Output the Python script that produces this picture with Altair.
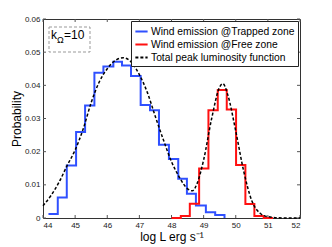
import altair as alt
import pandas as pd

# ---- data ----
trapped_edges = [44.17, 44.46, 44.74, 45.03, 45.31, 45.60, 45.88, 46.19, 46.46, 46.74,
                 47.04, 47.33, 47.61, 47.92, 48.21, 48.48, 48.76, 49.07, 49.36, 49.65]
trapped_vals = [0.0012, 0.0062, 0.0158, 0.0259, 0.0339, 0.0438, 0.0457, 0.0471, 0.0460,
                0.0428, 0.0341, 0.0325, 0.0221, 0.0178, 0.0118, 0.0073, 0.0038, 0.0017,
                0.0009, 0.0]

free_edges = [48.00, 48.29, 48.57, 48.86, 49.15, 49.44, 49.72, 50.01, 50.30, 50.58, 50.87, 51.16]
free_vals = [0.0, 0.0006, 0.0043, 0.0149, 0.0325, 0.0386, 0.0327, 0.0160, 0.0042, 0.0006, 0.0, 0.0]

total_x = [44.0, 44.25, 44.5, 44.75, 45.0, 45.25, 45.5, 45.75, 46.0, 46.25, 46.5, 46.75,
           47.0, 47.25, 47.5, 47.75, 48.0, 48.25, 48.5, 48.65, 48.8, 49.0, 49.25, 49.5,
           49.6, 49.75, 50.0, 50.25, 50.5, 50.75, 51.0, 51.5, 52.0]
total_y = [0.0037, 0.0068, 0.0108, 0.0158, 0.0205, 0.0268, 0.0348, 0.0410, 0.0450, 0.0475,
           0.0483, 0.0470, 0.0432, 0.0378, 0.0305, 0.0235, 0.0170, 0.0122, 0.0088, 0.0082,
           0.0105, 0.0175, 0.0300, 0.0395, 0.0405, 0.0372, 0.0262, 0.0140, 0.0052, 0.0015,
           0.0004, 0.0, 0.0]

series_names = ["Wind emission @Trapped zone", "Wind emission @Free zone",
                "Total peak luminosity function"]
series_colors = ["#2f50ff", "#ff1010", "#000000"]
series_dash = [[1, 0], [1, 0], [3, 2]]

x_ticks = [44, 45, 46, 47, 48, 49, 50, 51, 52]
y_ticks = [0, 0.01, 0.02, 0.03, 0.04, 0.05, 0.06]

x_title = "log L erg s\u207b\u00b9"
y_title = "Probability"

W, H = 257, 199
FONT = "Liberation Sans"

df_trap = pd.DataFrame({"x": trapped_edges, "y": trapped_vals, "series": series_names[0]})
df_free = pd.DataFrame({"x": free_edges, "y": free_vals, "series": series_names[1]})
df_tot = pd.DataFrame({"x": total_x, "y": total_y, "series": series_names[2]})

xs = alt.Scale(domain=[44, 52], nice=False, zero=False)
ys = alt.Scale(domain=[0, 0.06], nice=False)

xaxis = alt.Axis(title=x_title, values=x_ticks, format="d", labelOverlap=False)
yaxis = alt.Axis(title=y_title, values=y_ticks, labelOverlap=False,
                 labelExpr="datum.value == 0 ? '0' : format(datum.value, '.2f')")

xenc = alt.X("x:Q", scale=xs, axis=xaxis)
yenc = alt.Y("y:Q", scale=ys, axis=yaxis)
cenc = alt.Color("series:N", scale=alt.Scale(domain=series_names, range=series_colors),
                 legend=alt.Legend(title=None))
denc = alt.StrokeDash("series:N", scale=alt.Scale(domain=series_names, range=series_dash),
                      legend=alt.Legend(title=None))

trap = alt.Chart(df_trap).mark_line(interpolate="step-after", strokeWidth=2).encode(
    x=xenc, y=yenc, color=cenc, strokeDash=denc)
free = alt.Chart(df_free).mark_line(interpolate="step-after", strokeWidth=2).encode(
    x=xenc, y=yenc, color=cenc, strokeDash=denc)
tot = alt.Chart(df_tot).mark_line(interpolate="monotone", strokeWidth=1.5).encode(
    x=xenc, y=yenc, color=cenc, strokeDash=denc)

# inward ticks (MATLAB style) on all four sides
dfx = pd.DataFrame({"t": x_ticks})
dfy = pd.DataFrame({"t": y_ticks})
tick_color = "#555555"
xt_bot = alt.Chart(dfx).mark_rule(color=tick_color, strokeWidth=1).encode(
    x=alt.X("t:Q", scale=xs, axis=xaxis), y=alt.value(H), y2=alt.value(H - 3))
xt_top = alt.Chart(dfx).mark_rule(color=tick_color, strokeWidth=1).encode(
    x=alt.X("t:Q", scale=xs, axis=xaxis), y=alt.value(0), y2=alt.value(3))
yt_left = alt.Chart(dfy).mark_rule(color=tick_color, strokeWidth=1).encode(
    y=alt.Y("t:Q", scale=ys, axis=yaxis), x=alt.value(0), x2=alt.value(3))
yt_right = alt.Chart(dfy).mark_rule(color=tick_color, strokeWidth=1).encode(
    y=alt.Y("t:Q", scale=ys, axis=yaxis), x=alt.value(W), x2=alt.value(W - 3))

# k_Omega = 10 annotation box
box = alt.Chart(dfx.head(1)).mark_rect(fill="white", stroke="#999999", strokeWidth=1,
                                       strokeDash=[3, 2]).encode(
    x=alt.value(6), x2=alt.value(47), y=alt.value(8), y2=alt.value(33))
k_txt = alt.Chart(dfx.head(1)).mark_text(align="left", baseline="alphabetic", fontSize=12,
                                         font=FONT, color="black").encode(
    x=alt.value(8), y=alt.value(20), text=alt.value("k"))
om_txt = alt.Chart(dfx.head(1)).mark_text(align="left", baseline="alphabetic", fontSize=9,
                                          font=FONT, color="black").encode(
    x=alt.value(14), y=alt.value(24), text=alt.value("\u03a9"))
eq_txt = alt.Chart(dfx.head(1)).mark_text(align="left", baseline="alphabetic", fontSize=12,
                                          font=FONT, color="black").encode(
    x=alt.value(21), y=alt.value(20), text=alt.value("=10"))

chart = alt.layer(
    xt_bot, xt_top, yt_left, yt_right, box, k_txt, om_txt, eq_txt, trap, free, tot
).properties(
    width=W, height=H,
    autosize=alt.AutoSizeParams(type="none"),
    padding={"left": 35, "top": 11, "right": 24, "bottom": 27},
    background="white",
).configure_view(
    stroke="#333333", strokeWidth=1
).configure_axis(
    domain=False, ticks=False, grid=False, labelOverlap=False,
    labelFont=FONT, labelFontSize=8, labelColor="#222222",
    titleFont=FONT, titleFontSize=12, titleFontWeight="normal", titleColor="black",
).configure_axisX(
    labelPadding=3, titlePadding=2
).configure_axisY(
    labelPadding=3, titlePadding=1
).configure_legend(
    orient="top-right", offset=2,
    fillColor="white", strokeColor="#222222", padding=3,
    symbolType="stroke", symbolSize=150, symbolStrokeWidth=2,
    labelFont=FONT, labelFontSize=10.3, labelColor="black", labelOffset=2,
    rowPadding=0, labelLimit=300,
)

chart.save("out.html", embed_options={"renderer": "svg", "actions": False})
